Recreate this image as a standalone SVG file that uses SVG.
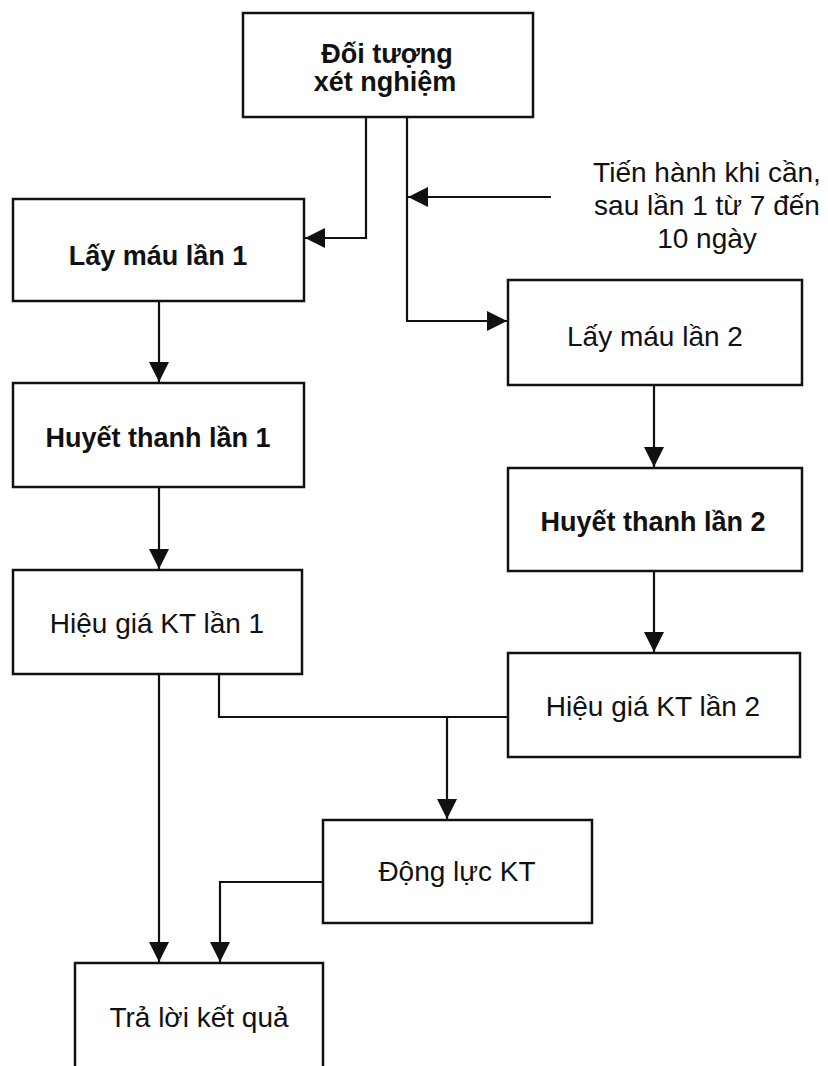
<svg xmlns="http://www.w3.org/2000/svg" width="828" height="1066" viewBox="0 0 828 1066">
<style>
.box{fill:#fff;stroke:#111;stroke-width:2.5}
.lbl{font-family:"Liberation Sans",Arial,sans-serif;font-size:28px;fill:#111;text-anchor:middle}
.b{font-weight:bold;font-size:27px}
.con{fill:none;stroke:#111;stroke-width:2.2}
</style>
<defs>
<marker id="ah" markerUnits="userSpaceOnUse" markerWidth="20" markerHeight="20" refX="20" refY="10" orient="auto">
<path d="M0,0 L20,10 L0,20 z" fill="#111"/>
</marker>
</defs>
<rect width="828" height="1066" fill="#fff"/>
<g id="connectors">
<path class="con" d="M366,117 V238 H305" marker-end="url(#ah)"/>
<path class="con" d="M407,117 V321 H507" marker-end="url(#ah)"/>
<path class="con" d="M551,197 H408" marker-end="url(#ah)"/>
<path class="con" d="M159,301 V382" marker-end="url(#ah)"/>
<path class="con" d="M159,487 V569" marker-end="url(#ah)"/>
<path class="con" d="M159,674 V962" marker-end="url(#ah)"/>
<path class="con" d="M219,674 V717 H508"/>
<path class="con" d="M447,717 V819" marker-end="url(#ah)"/>
<path class="con" d="M654,385 V467" marker-end="url(#ah)"/>
<path class="con" d="M654,571 V652" marker-end="url(#ah)"/>
<path class="con" d="M323,882 H220 V962" marker-end="url(#ah)"/>
</g>
<g id="n-doituong">
<rect class="box" x="243" y="13" width="290" height="104"/>
<text class="lbl b" x="387" y="63">Đối tượng</text>
<text class="lbl b" x="385" y="91">xét nghiệm</text>
</g>
<g id="n-note">
<text class="lbl" x="707" y="182">Tiến hành khi cần,</text>
<text class="lbl" x="707" y="215">sau lần 1 từ 7 đến</text>
<text class="lbl" x="707" y="248">10 ngày</text>
</g>
<g id="n-laymau1">
<rect class="box" x="13" y="199" width="291" height="102"/>
<text class="lbl b" x="158" y="265">Lấy máu lần 1</text>
</g>
<g id="n-huyetthanh1">
<rect class="box" x="13" y="383" width="291" height="104"/>
<text class="lbl b" x="158" y="447">Huyết thanh lần 1</text>
</g>
<g id="n-hieugia1">
<rect class="box" x="13" y="570" width="289" height="104"/>
<text class="lbl" x="157" y="633">Hiệu giá KT lần 1</text>
</g>
<g id="n-laymau2">
<rect class="box" x="508" y="280" width="294" height="105"/>
<text class="lbl" x="655" y="346">Lấy máu lần 2</text>
</g>
<g id="n-huyetthanh2">
<rect class="box" x="508" y="468" width="294" height="103"/>
<text class="lbl b" x="653" y="531">Huyết thanh lần 2</text>
</g>
<g id="n-hieugia2">
<rect class="box" x="508" y="653" width="292" height="104"/>
<text class="lbl" x="653" y="716">Hiệu giá KT lần 2</text>
</g>
<g id="n-dongluc">
<rect class="box" x="323" y="820" width="269" height="103"/>
<text class="lbl" x="457" y="881">Động lực KT</text>
</g>
<g id="n-traloi">
<rect class="box" x="75" y="963" width="248" height="110"/>
<text class="lbl" x="199" y="1027">Trả lời kết quả</text>
</g>
</svg>
